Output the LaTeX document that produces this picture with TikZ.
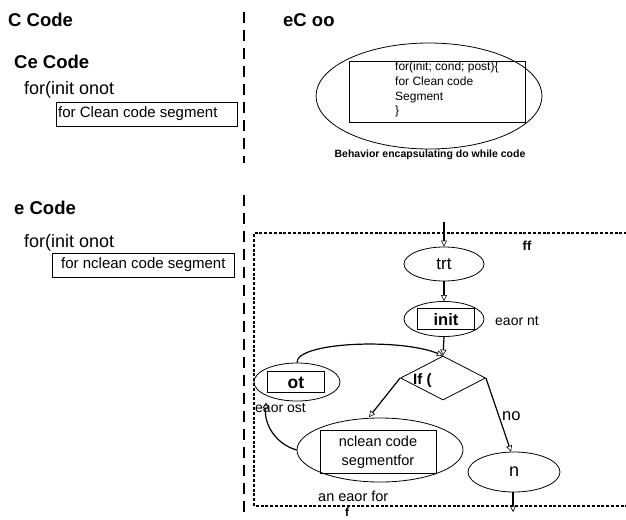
\documentclass[tikz,border=0pt]{standalone}
\usepackage{fontspec}
\setmainfont{Liberation Sans}
\usetikzlibrary{arrows.meta,shapes.geometric}
\begin{document}
\begin{tikzpicture}[x=1pt,y=-1pt,
  hd/.style={font=\fontsize{18.5}{18.5}\selectfont\bfseries, anchor=west, inner sep=0},
  txt/.style={font=\fontsize{#1}{#1}\selectfont, inner sep=0},
  codebox/.style={draw, line width=0.9pt, anchor=north west, inner sep=0},
  ell/.style={draw, ellipse, line width=0.8pt, inner sep=0},
  arr/.style={line width=1.2pt, -{Triangle[open,length=6pt,width=6pt,line width=0.6pt]}},
  vdash/.style={line width=1.1pt, dash pattern=on 11pt off 7pt},
  rdash/.style={line width=1.4pt, dash pattern=on 3pt off 1.8pt},
]
\useasboundingbox (0,0) rectangle (626,519);
% left column
\node[hd] (h1) at (8,20) {C Code};
\node[hd] (h2) at (283,20) {eC oo};
\node[hd] (h3) at (14,62) {Ce Code};
\node[txt=18, anchor=west] (f1) at (24,90) {for(init onot};
\node[codebox, minimum width=181, minimum height=24] (b1) at (56,102) {};
\node[txt=15, anchor=west] (b1t) at (58,114) {for Clean code segment};
\node[hd] (h4) at (14,208) {e Code};
\node[txt=18, anchor=west] (f2) at (24,243) {for(init onot};
\node[codebox, minimum width=182, minimum height=24] (b2) at (52,253) {};
\node[txt=15, anchor=west] (b2t) at (61,265) {for nclean code segment};
% vertical dashed separator
\coordinate (v1) at (244,12);
\coordinate (v2) at (244,163);
\coordinate (v3) at (244,195);
\coordinate (v4) at (244,519);
\draw[vdash] (v1) -- (v2);
\draw[vdash] (v3) -- (v4);
% top right ellipse
\node[ell, minimum width=226, minimum height=106] (be) at (429,96) {};
\node[draw, line width=0.8pt, minimum width=176, minimum height=61, inner sep=0] (bb) at (437,92) {};
\node[txt=12, anchor=north west, align=left, font=\fontsize{12}{14.7}\selectfont] (bbt) at (395,62) {for(init; cond; post)\{\\for Clean code\\Segment\\\}};
\node[txt=10.5, font=\fontsize{10.5}{10.5}\selectfont\bfseries] (bl) at (430,155) {Behavior encapsulating do while code};
% dashed frame
\coordinate (r1) at (632,233);
\coordinate (r2) at (254,233);
\coordinate (r3) at (254,506);
\coordinate (r4) at (632,506);
\draw[rdash] (r1) -- (r2) -- (r3) -- (r4);
\node[txt=13, font=\fontsize{13}{13}\selectfont\bfseries] (ff) at (527,246) {ff};
\node[txt=12, font=\fontsize{12}{12}\selectfont\bfseries] (fb) at (347,512) {f};
% flowchart
\coordinate (in) at (444,222);
\node[ell, minimum width=80, minimum height=34] (trt) at (444,264) {};
\node[txt=17] (trtt) at (444,264) {trt};
\node[ell, minimum width=80, minimum height=35] (init) at (444,319) {};
\node[draw, line width=0.9pt, minimum width=57, minimum height=21, inner sep=0] (initb) at (446,319) {};
\node[txt=16, font=\fontsize{16.5}{16.5}\selectfont\bfseries] (initt) at (446,320) {init};
\node[txt=14, anchor=west] (ent) at (495,321) {eaor nt};
\node[draw, diamond, line width=0.8pt, minimum width=85, minimum height=44, inner sep=0] (dia) at (443,378) {};
\node[txt=15, font=\fontsize{15}{15}\selectfont\bfseries, anchor=west] (ift) at (413,381) {If (};
\node[ell, minimum width=86, minimum height=38] (ot) at (297,382) {};
\node[draw, line width=0.9pt, minimum width=57, minimum height=21, inner sep=0] (otb) at (296,382) {};
\node[txt=17, font=\fontsize{17.5}{17.5}\selectfont\bfseries] (ott) at (296,383) {ot};
\node[txt=14, anchor=west] (eos) at (255,408) {eaor ost};
\node[ell, minimum width=166, minimum height=64] (nc) at (380,450) {};
\node[draw, line width=0.9pt, minimum width=116, minimum height=43, inner sep=0] (ncb) at (378,452) {};
\node[txt=14, align=center, font=\fontsize{14.5}{19}\selectfont] (nct) at (378,452) {nclean code\\segmentfor};
\node[txt=14.5, anchor=west] (aef) at (318,496) {an eaor for};
\node[ell, minimum width=92, minimum height=40] (n) at (514,472) {};
\node[txt=18] (nt) at (514,472) {n};
\node[txt=16.5, anchor=west] (no) at (502,416) {no};
\coordinate (out) at (513,512);
% connectors
\draw[arr] (in) -- (trt.north);
\draw[arr] (trt.south) -- (init.north);
\draw[arr] (init.south) -- (dia.north);
\draw[arr] (ot.north) .. controls (296,342) and (400,338) .. (dia.north);
\draw[arr] (dia.west) -- ([xshift=-11pt,yshift=0.5pt]nc.north);
\draw[arr] (dia.east) -- ([xshift=-3pt]n.north);
\draw[arr] (nc.west) .. controls (276,444) and (264,425) .. ([xshift=-31pt,yshift=-1pt]ot.south);
\draw[arr] ([xshift=-1pt]n.south) -- (out);
\end{tikzpicture}
\end{document}
